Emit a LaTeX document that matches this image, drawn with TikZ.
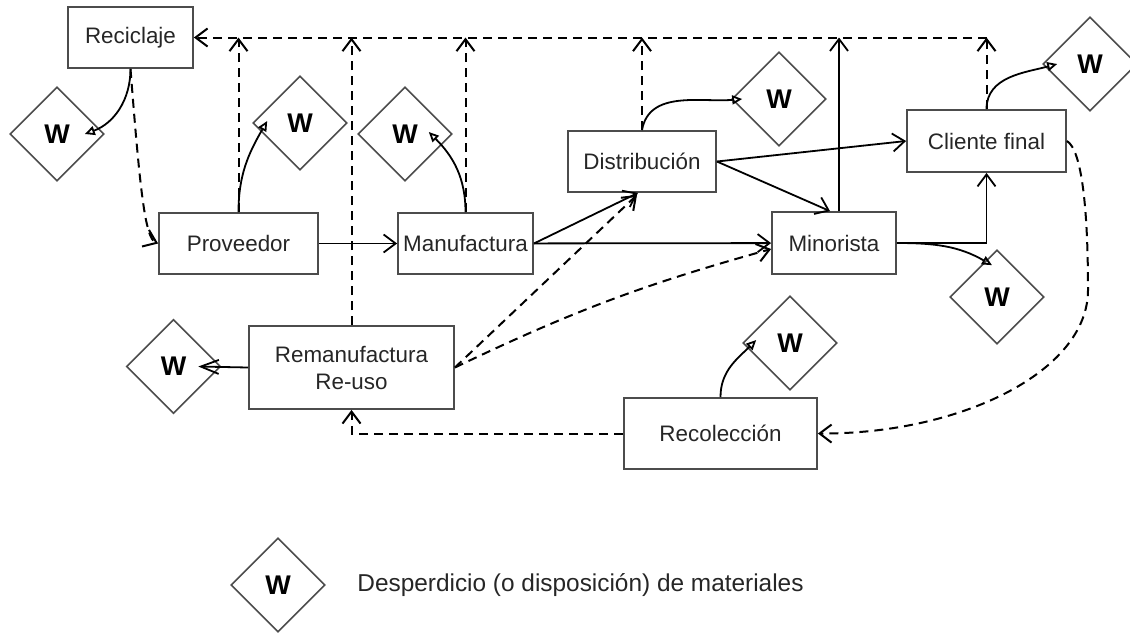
\documentclass[tikz,border=0pt]{standalone}
\usepackage{fontspec}
\setmainfont{Liberation Sans}
\usetikzlibrary{arrows.meta,shapes.geometric}
\begin{document}
\begin{tikzpicture}[x=0.5pt,y=-0.5pt,
	box/.style={draw=black!70,line width=0.9pt,inner sep=0pt,align=center,text=black!85,font=\fontsize{11.2pt}{13.5pt}\selectfont},
	waste/.style={diamond,draw=black!70,line width=0.8pt,minimum size=47pt,inner sep=0pt,font=\fontsize{13.5pt}{15pt}\selectfont\bfseries},
	flow/.style={line width=0.9pt,-{Straight Barb[length=6pt,width=9pt]}},
	back/.style={flow,line width=1pt,dash pattern=on 4.5pt off 3pt},
	loss/.style={line width=0.9pt,-{Triangle[open,length=5pt,width=4.5pt]}}]%CADENA
		\useasboundingbox (0,0) rectangle (1130,634);
		\node[box,minimum width=62.5pt,minimum height=30.5pt] (rec) at (130.5,37.5) {Reciclaje};
		\node[box,minimum width=79.5pt,minimum height=30.5pt] (prov) at (238.5,243.5) {Proveedor};
		\node[box,minimum width=67.5pt,minimum height=30.5pt] (man) at (465.5,243.5) {Manufactura};
		\node[box,minimum width=74pt,minimum height=30.5pt] (dist) at (642,161.5) {Distribución};
		\node[box,minimum width=79.5pt,minimum height=31pt] (cf) at (986.5,141) {Cliente final};
		\node[box,minimum width=62pt,minimum height=31pt] (min) at (834,243) {Minorista};
		\node[box,minimum width=102.5pt,minimum height=41.5pt] (rem) at (351.5,367.5) {Remanufactura\\Re-uso};
		\node[box,minimum width=96.5pt,minimum height=35.5pt] (col) at (720.5,433.5) {Recolección};
		\foreach \n/\x/\y in {w1/57/134,w2/300/123,w3/405/134,w4/779/99,w5/1090/64,w6/997/297,w7/790/343,w8/173.5/366.5,wl/278/585}
		\node[waste] (\n) at (\x,\y) {W};
		\node[anchor=west,inner sep=0pt,text=black!85,font=\fontsize{12.2pt}{14pt}\selectfont] (leg) at (357,585) {Desperdicio (o disposición) de materiales};
		\coordinate (tr) at (cf.north |- rec.east);
		\coordinate (mtop) at ([xshift=2.5pt]min.north);
		\draw[flow] (prov) -- (man);
		\draw[flow] (man.east) -- ([xshift=-2pt]dist.south);
		\draw[flow] (man) -- (min);
		\draw[flow] (dist.east) -- (cf.west);
		\draw[flow] (dist.east) -- ([xshift=-2pt]min.north);
		\draw[flow] (mtop) -- (mtop |- rec.east);
		\draw[flow] (min.east) -| (cf.south);
		\draw[line width=0.9pt,-{Straight Barb[length=9pt,width=7pt]}] (rem.west) -- ([xshift=-11.5pt]w8.east);
		\draw[loss] (rec.south) to[out=-90,in=20] ([xshift=-10pt]w1.east);
		\draw[loss] (prov.north) to[out=90,in=-120] ([xshift=7.5pt,yshift=1pt]w2.west);
		\draw[loss] (man.north) to[out=90,in=-45] ([xshift=-12pt,yshift=1pt]w3.east);
		\draw[loss] (dist.north) to[out=80,in=185] ([xshift=5.5pt]w4.west);
		\draw[loss] (cf.north) to[out=90,in=195] ([xshift=7.5pt]w5.west);
		\draw[loss] (min.east) to[out=0,in=150] ([shift={(-2.5pt,-8pt)}]w6.north);
		\draw[loss] (col.north) to[out=90,in=-135] ([xshift=7pt,yshift=1.5pt]w7.west);
		\draw[back] (tr) -- (rec.east);
		\foreach \n in {prov,rem,man,dist,cf}
		\draw[back] (\n.north) -- (\n.north |- rec.east);
		\draw[back] (rec.south) .. controls (140,190) and (145,238) .. (prov.west);
		\draw[back] (rem.east) -- ([xshift=-2.5pt,yshift=-1pt]dist.south);
		\draw[back] (rem.east) to[bend left=5] ([yshift=-3pt]min.west);
		\draw[back] (cf.east) .. controls (1082,150) and (1088,210) .. (1088,290) .. controls (1088,372) and (960,434) .. (col.east);
		\draw[back] (col.west) -| (rem.south);
\end{tikzpicture}
\end{document}
